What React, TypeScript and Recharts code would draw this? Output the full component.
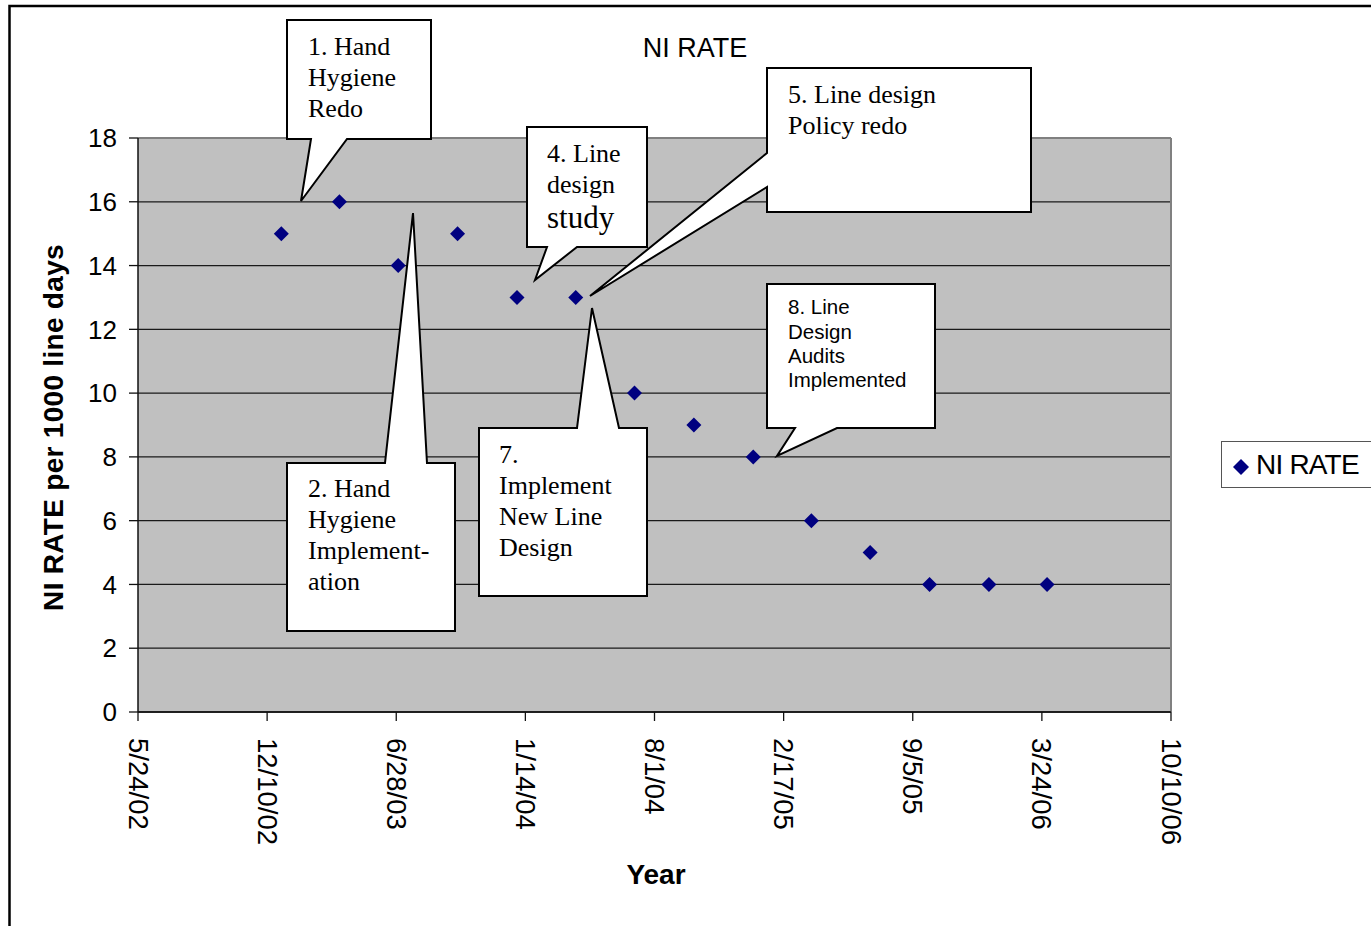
import React from 'react';
import { ScatterChart, Scatter, XAxis, YAxis, CartesianGrid, Legend, ReferenceLine } from 'recharts';

// ---- data ----
const sampleDates = [
  '2003-01-01', '2003-04-01', '2003-07-01', '2003-10-01',
  '2004-01-01', '2004-04-01', '2004-07-01', '2004-10-01',
  '2005-01-01', '2005-04-01', '2005-07-01', '2005-10-01',
  '2006-01-01', '2006-04-01',
];
const niRate = [15, 16, 14, 15, 13, 13, 10, 9, 8, 6, 5, 4, 4, 4];
const xTickDates = [
  '2002-05-24', '2002-12-10', '2003-06-28', '2004-01-14', '2004-08-01',
  '2005-02-17', '2005-09-05', '2006-03-24', '2006-10-10',
];
const yTicks = [0, 2, 4, 6, 8, 10, 12, 14, 16, 18];
const seriesName = 'NI RATE';
const chartTitle = 'NI RATE';
const xAxisTitle = 'Year';
const yAxisTitle = 'NI RATE per 1000 line days';
const calloutTexts = [
  ['1. Hand', 'Hygiene', 'Redo'],
  ['2. Hand', 'Hygiene', 'Implement-', 'ation'],
  ['4. Line', 'design', 'study'],
  ['5. Line design', 'Policy redo'],
  ['7.', 'Implement', 'New Line', 'Design'],
  ['8. Line', 'Design', 'Audits', 'Implemented'],
];

// ---- helpers ----
const toSerial = (iso: string) => Date.parse(iso) / 86400000 + 25569;
const fmtDate = (serial: number) => {
  const d = new Date(Math.round((serial - 25569) * 86400000));
  return `${d.getUTCMonth() + 1}/${d.getUTCDate()}/${String(d.getUTCFullYear() % 100).padStart(2, '0')}`;
};

const data = sampleDates.map((d, i) => ({ x: toSerial(d), y: niRate[i] }));
const xTicks = xTickDates.map(toSerial);

const SANS = '"Liberation Sans", Arial, sans-serif';
const SERIF = '"Liberation Serif", "Times New Roman", serif';
const MARKER = '#000080';

// ---- annotation layout (callouts) ----
const calloutLayout = [
  { path: 'M287,20 H431 V139 H347 L301,201 L311,139 H287 Z', x: 308, ys: [55, 86, 117], sizes: [26, 26, 26], font: SERIF },
  { path: 'M287,463 H385 L413,213 L427,463 H455 V631 H287 Z', x: 308, ys: [497, 528, 559, 590], sizes: [26, 26, 26, 26], font: SERIF },
  { path: 'M527,127 H647 V247 H577 L535,280 L547,247 H527 Z', x: 547, ys: [162, 193, 228], sizes: [26, 26, 31], font: SERIF },
  { path: 'M767,68 H1031 V212 H767 V187 L590,296 L767,153 Z', x: 788, ys: [103, 134], sizes: [26, 26], font: SERIF },
  { path: 'M479,428 H577 L592,308 L619,428 H647 V596 H479 Z', x: 499, ys: [463, 494, 525, 556], sizes: [26, 26, 26, 26], font: SERIF },
  { path: 'M767,284 H935 V428 H837 L777,456 L795,428 H767 Z', x: 788, ys: [314, 339, 363, 387], sizes: [20.5, 20.5, 20.5, 20.5], font: SANS },
];

const Diamond = (props: any) => {
  const { cx, cy } = props;
  const r = 7.5;
  return <polygon points={`${cx},${cy - r} ${cx + r},${cy} ${cx},${cy + r} ${cx - r},${cy}`} fill={MARKER} />;
};

const XTick = (props: any) => {
  const { x, y, payload } = props;
  const y0 = y + 15;
  return (
    <text
      x={x}
      y={y0}
      transform={`rotate(90, ${x}, ${y0})`}
      textAnchor="start"
      dominantBaseline="central"
      fontSize={27.5}
      fontFamily={SANS}
      fill="#000"
    >
      {fmtDate(payload.value)}
    </text>
  );
};

const LegendBox = (props: any) => {
  const item = props.payload && props.payload[0];
  return (
    <div
      style={{
        boxSizing: 'border-box',
        width: 152,
        height: 47,
        border: '1.5px solid #555',
        background: '#fff',
        display: 'flex',
        alignItems: 'center',
      }}
    >
      <svg width={18} height={18} style={{ marginLeft: 10, marginTop: 4 }}>
        <polygon points="9,1 17,9 9,17 1,9" fill={MARKER} />
      </svg>
      <span style={{ marginLeft: 6, fontSize: 28, fontFamily: SANS, color: '#000', letterSpacing: -0.8, lineHeight: '28px' }}>
        {item ? item.value : seriesName}
      </span>
    </div>
  );
};

export default function App() {
  return (
    <div style={{ position: 'absolute', left: 0, top: 0, width: 1371, height: 926, background: '#fff', overflow: 'hidden' }}>
      <ScatterChart width={1371} height={926} margin={{ top: 138, right: 200, bottom: 64, left: 38 }}>
        <CartesianGrid horizontal vertical={false} stroke="#1a1a1a" strokeWidth={1.3} fill="#C0C0C0" fillOpacity={1} />
        <XAxis
          type="number"
          dataKey="x"
          domain={[xTicks[0], xTicks[xTicks.length - 1]]}
          ticks={xTicks}
          interval={0}
          height={150}
          tickSize={9}
          tick={<XTick />}
          axisLine={{ stroke: '#111', strokeWidth: 1.5 }}
          tickLine={{ stroke: '#111', strokeWidth: 1.3 }}
          allowDataOverflow
        />
        <YAxis
          type="number"
          dataKey="y"
          domain={[0, 18]}
          ticks={yTicks}
          interval={0}
          width={100}
          tickSize={9}
          tickMargin={12}
          tick={{ fontSize: 26, fill: '#000', fontFamily: SANS }}
          axisLine={{ stroke: '#111', strokeWidth: 1.5 }}
          tickLine={{ stroke: '#111', strokeWidth: 1.3 }}
          allowDataOverflow
        />
        <ReferenceLine y={18} stroke="#808080" strokeWidth={2} />
        <ReferenceLine x={xTicks[xTicks.length - 1]} stroke="#808080" strokeWidth={2} />
        <Legend
          layout="vertical"
          align="center"
          verticalAlign="middle"
          wrapperStyle={{ left: 1221, top: 441, width: 152, height: 47 }}
          content={<LegendBox />}
        />
        <Scatter name={seriesName} data={data} fill={MARKER} shape={<Diamond />} isAnimationActive={false} />
      </ScatterChart>
      <svg
        width={1371}
        height={926}
        style={{ position: 'absolute', left: 0, top: 0, pointerEvents: 'none' }}
      >
        <rect x={9.5} y={6} width={1400} height={1000} fill="none" stroke="#000" strokeWidth={2.5} />
        <text x={695} y={57} textAnchor="middle" fontSize={27} fontFamily={SANS} fill="#000">
          {chartTitle}
        </text>
        <text x={656} y={884} textAnchor="middle" fontSize={28} fontWeight="bold" fontFamily={SANS} fill="#000">
          {xAxisTitle}
        </text>
        <text
          x={63}
          y={427.5}
          transform="rotate(-90, 63, 427.5)"
          textAnchor="middle"
          fontSize={28}
          fontWeight="bold"
          fontFamily={SANS}
          letterSpacing={0.3}
          fill="#000"
        >
          {yAxisTitle}
        </text>
        {calloutLayout.map((c, i) => (
          <g key={i}>
            <path d={c.path} fill="#fff" stroke="#000" strokeWidth={2} strokeLinejoin="miter" />
            {calloutTexts[i].map((line, j) => (
              <text key={j} x={c.x} y={c.ys[j]} fontSize={c.sizes[j]} fontFamily={c.font} fill="#000">
                {line}
              </text>
            ))}
          </g>
        ))}
      </svg>
    </div>
  );
}
